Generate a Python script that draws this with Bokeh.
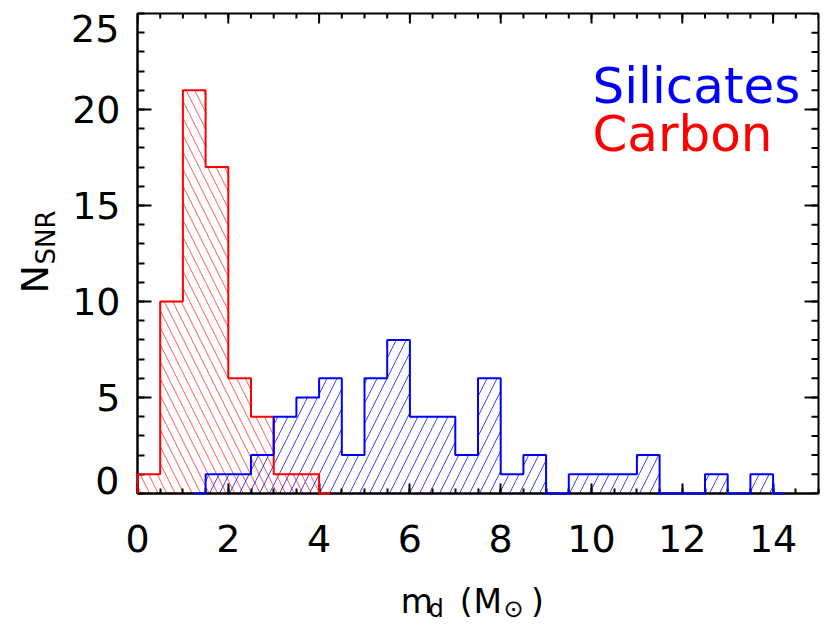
import numpy as np
from bokeh.plotting import figure
from bokeh.models import Range1d, FixedTicker
from bokeh.core.properties import value
from bokeh.embed import file_html
from bokeh.resources import INLINE

# ---------------- data ----------------
bin_width = 0.5
carbon_start = -0.5
carbon_counts = [0, 1, 10, 21, 17, 6, 4, 1, 1, 0]
silicate_start = 1.0
silicate_counts = [0, 1, 1, 2, 4, 5, 6, 2, 6, 8, 4, 4, 2, 6, 1, 2, 0,
                   1, 1, 1, 2, 0, 0, 1, 0, 1, 0]

x_major = [0, 2, 4, 6, 8, 10, 12, 14]
x_minor = list(np.arange(0, 15.01, 0.5))
y_major = [5, 10, 15, 20]
y_minor = list(range(0, 26))
y_edge_ticks = [0, 25]
series_names = ["Silicates", "Carbon"]

X0, X1 = 0, 15
Y0, Y1 = 0, 25

FONT = "DejaVu Sans"
BLUE = "#0000ff"
RED = "#ff0000"


def hist_edges(start, counts, w):
    left = start + w * np.arange(len(counts))
    return left, left + w


def psym10(start, counts, w):
    """IDL psym=10 style outline: first and last bins drawn half-width."""
    left, right = hist_edges(start, counts, w)
    n = len(counts)
    xs, ys = [], []
    for i, c in enumerate(counts):
        l = left[i] + (w / 2 if i == 0 else 0)
        r = right[i] - (w / 2 if i == n - 1 else 0)
        xs += [l, r]
        ys += [c, c]
    return list(np.clip(xs, X0, X1)), ys


p = figure(width=830, height=626, output_backend="svg", toolbar_location=None,
           x_range=Range1d(X0, X1), y_range=Range1d(Y0, Y1),
           min_border_left=137, min_border_right=12, min_border_top=13,
           min_border_bottom=133)
p.background_fill_color = "white"
p.border_fill_color = "white"
p.outline_line_color = "black"
p.outline_line_width = 2
p.xgrid.visible = False
p.ygrid.visible = False

# hatched histograms
cl, cr = hist_edges(carbon_start, carbon_counts, bin_width)
p.quad(left=cl, right=cr, bottom=0, top=carbon_counts, fill_color=None,
       line_color=None, hatch_pattern="left_diagonal_line", hatch_color=RED,
       hatch_alpha=0.65, hatch_scale=17, hatch_weight=1)
sl, sr = hist_edges(silicate_start, silicate_counts, bin_width)
p.quad(left=sl, right=sr, bottom=0, top=silicate_counts, fill_color=None,
       line_color=None, hatch_pattern="right_diagonal_line", hatch_color=BLUE,
       hatch_alpha=0.75, hatch_scale=20, hatch_weight=1)

# outlines
cx, cy = psym10(carbon_start, carbon_counts, bin_width)
r1 = p.line(cx, cy, line_color=RED, line_width=2)
sx, sy = psym10(silicate_start, silicate_counts, bin_width)
r2 = p.line(sx, sy, line_color=BLUE, line_width=2)
r1.level = "overlay"
r2.level = "overlay"

# axes
xa = p.xaxis[0]
xa.ticker = FixedTicker(ticks=x_major, minor_ticks=x_minor)
ya = p.yaxis[0]
ya.ticker = FixedTicker(ticks=y_major, minor_ticks=y_minor)
for ax, mj, mn, so in ((xa, 10, 5, 31), (ya, 14, 7, 17)):
    ax.axis_line_color = "black"
    ax.axis_line_width = 2
    ax.major_tick_in = mj
    ax.major_tick_out = 0
    ax.minor_tick_in = mn
    ax.minor_tick_out = 0
    ax.major_tick_line_width = 2
    ax.minor_tick_line_width = 2
    ax.major_tick_line_color = "black"
    ax.minor_tick_line_color = "black"
    ax.major_label_text_font = FONT
    ax.major_label_text_font_size = "38px"
    ax.major_label_text_color = "black"
    ax.major_label_standoff = so

# mirrored ticks on right and top
p.ray(x=[X1] * len(y_major), y=y_major, length=14, length_units="screen",
      angle=np.pi, line_color="black", line_width=2)
p.ray(x=[X1] * len(y_minor), y=y_minor, length=7, length_units="screen",
      angle=np.pi, line_color="black", line_width=2)
p.ray(x=x_major, y=[Y1] * len(x_major), length=10, length_units="screen",
      angle=-np.pi / 2, line_color="black", line_width=2)
p.ray(x=x_minor, y=[Y1] * len(x_minor), length=5, length_units="screen",
      angle=-np.pi / 2, line_color="black", line_width=2)


def add_text(x, y, txt, size, color="black", align="left",
             baseline="alphabetic", angle=0.0):
    r = p.text(x=[x], y=[y], text=[txt], angle=angle, text_align=align,
               text_baseline=baseline, text_font=value(FONT),
               text_font_size=value(size), text_color=color)
    r.level = "overlay"
    return r


# y tick labels at the range ends (shifted inside like IDL)
for t, ypos in zip(y_edge_ticks, [0.68, 24.22]):
    add_text(-0.40, ypos, str(t), "38px", align="right", baseline="middle")

# legend texts
for name, col, ypos in zip(series_names, [BLUE, RED], [21.25, 18.75]):
    add_text(10.02, ypos, name, "50px", color=col)

# x axis title: m_d(M_sun)
xtitle = [("m", 5.80, -5.62, "33px"), ("d", 6.41, -6.02, "24px"),
          ("(", 7.10, -5.62, "33px"), ("M", 7.40, -5.62, "33px"),
          ("\u2299", 8.06, -6.02, "24px"), (")", 8.67, -5.62, "33px")]
for txt, xx, yy, fs in xtitle:
    add_text(xx, yy, txt, fs)

# y axis title: N_SNR
add_text(-2.247, 10.42, "N", "38px", angle=np.pi / 2)
add_text(-2.026, 11.93, "SNR", "26px", angle=np.pi / 2)

open("out.html", "w").write(file_html(p, INLINE))
